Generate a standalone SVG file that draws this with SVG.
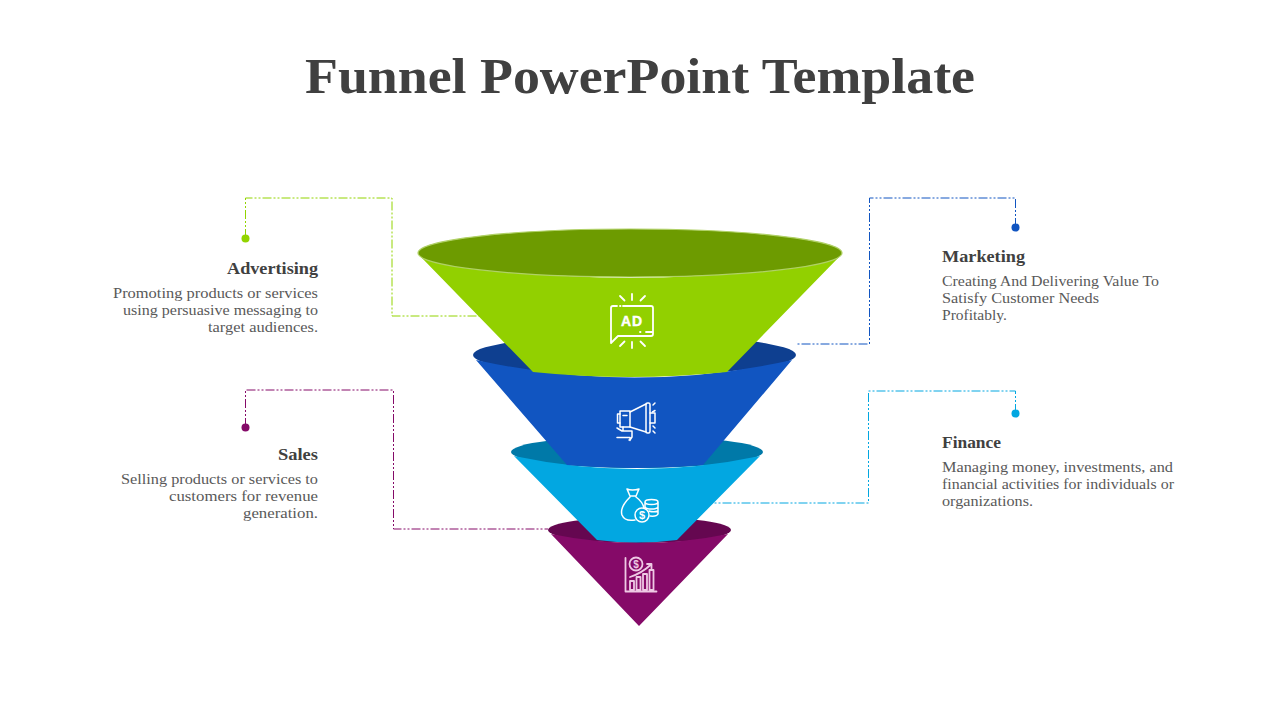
<svg xmlns="http://www.w3.org/2000/svg" width="1280" height="720" viewBox="0 0 1280 720">
<style>
text{font-family:"Liberation Serif","DejaVu Serif",serif}
.title{font-size:50px;font-weight:700;fill:#404040}
.h{font-size:17px;font-weight:700;fill:#404040}
.b{font-size:15.500px;fill:#595959}
.r{text-anchor:end}
.c{fill:none;stroke-width:1;stroke-dasharray:9 2 2 2 2 2}
.i{fill:none;stroke-width:1.500;stroke-linecap:round;stroke-linejoin:round;stroke:#fff}
.it{font-family:"Liberation Sans",sans-serif;fill:#fff;text-anchor:middle;font-weight:700}
</style>
<rect width="1280" height="720" fill="#fff"/>
<text class="title" x="305" y="93" textLength="670" lengthAdjust="spacingAndGlyphs">Funnel PowerPoint Template</text>
<g id="connectors">
<path class="c" stroke="#92d400" d="M245.500 238V198H392V316H482"/>
<path class="c" stroke="#1155c1" d="M1015.500 227V198H869.500V344H796"/>
<path class="c" stroke="#850a68" d="M245.500 427V390H393.500V529H548"/>
<path class="c" stroke="#02a7e1" d="M1015.500 413V391H868.500V503H712"/>
</g>
<g id="sales">
<circle cx="245.500" cy="427.500" r="4" fill="#850a68"/>
<text class="h r" x="318" y="460" textLength="40" lengthAdjust="spacingAndGlyphs">Sales</text>
<text class="b r" x="318" y="484" textLength="197" lengthAdjust="spacingAndGlyphs">Selling products or services to</text>
<text class="b r" x="318" y="501" textLength="149" lengthAdjust="spacingAndGlyphs">customers for revenue</text>
<text class="b r" x="318" y="518" textLength="75" lengthAdjust="spacingAndGlyphs">generation.</text>
<ellipse cx="639.500" cy="530" rx="91.500" ry="13" fill="#650750"/>
<path d="M551 534Q640 552 728 534L639 626Z" fill="#850a68"/>
<g class="i" style="stroke:#eec9e4;stroke-width:1.800">
<path d="M625.500 558V591.500H656.500M630 577Q642 573 651 564.500M647 564H651.500V568.500"/>
<rect x="630" y="581" width="4" height="9"/><rect x="636.500" y="577" width="4" height="13"/><rect x="643" y="574" width="4" height="16"/><rect x="649.500" y="570" width="4" height="20"/>
<circle cx="636" cy="564" r="6.500"/>
</g>
<text class="it" x="636" y="568" font-size="10" style="fill:#eec9e4">$</text>
</g>
<g id="finance">
<circle cx="1015.500" cy="413.500" r="4" fill="#02a7e1"/>
<text class="h" x="942" y="448" textLength="59" lengthAdjust="spacingAndGlyphs">Finance</text>
<text class="b" x="942" y="472" textLength="231" lengthAdjust="spacingAndGlyphs">Managing money, investments, and</text>
<text class="b" x="942" y="489" textLength="232" lengthAdjust="spacingAndGlyphs">financial activities for individuals or</text>
<text class="b" x="942" y="506" textLength="91" lengthAdjust="spacingAndGlyphs">organizations.</text>
<ellipse cx="637" cy="452" rx="126" ry="16" fill="#0079a8"/>
<path d="M514 456L597 540Q637 545 677 540L760 456Q637 482 514 456Z" fill="#02a7e1"/>
<g class="i">
<path d="M627 489Q632 491 639 489L636 496L630 496ZM630 497C624 503 620 509 622 515C624 520 629 521 635 520M636 497C640 500 643 503 644 508"/>
<circle cx="642" cy="515" r="7"/>
<path d="M645 502a6.500 2.500 0 0 1 13 0v12a6.500 2.500 0 0 1-8 2M645 502a6.500 2.500 0 0 0 13 0M645 502v6M645 506.500a6.500 2.500 0 0 0 13 0M649 511a6.500 2.500 0 0 0 9 0"/>
</g>
<text class="it" x="642" y="519" font-size="11">$</text>
</g>
<g id="marketing">
<circle cx="1015.500" cy="227.500" r="4" fill="#1155c1"/>
<text class="h" x="942" y="262" textLength="83" lengthAdjust="spacingAndGlyphs">Marketing</text>
<text class="b" x="942" y="286" textLength="217" lengthAdjust="spacingAndGlyphs">Creating And Delivering Value To</text>
<text class="b" x="942" y="303" textLength="157" lengthAdjust="spacingAndGlyphs">Satisfy Customer Needs</text>
<text class="b" x="942" y="320" textLength="65" lengthAdjust="spacingAndGlyphs">Profitably.</text>
<ellipse cx="634.500" cy="355" rx="161.500" ry="20" fill="#0e3f90"/>
<path d="M476 360L567 465Q635 471 703 465L792 360Q635 395 476 360Z" fill="#1155c1"/>
<g class="i">
<path d="M630 412L646 404M630 427L646 432M650 413H655V423H650"/>
<rect x="646" y="403" width="4" height="30" rx="1.500"/>
<rect x="620" y="411" width="10" height="16"/>
<path d="M620 414H617.500V423H620M623 415.500H627M623 427V431M617 428L622 431H632V437L630 440H629M617 437.500H630V440.500"/>
<path d="M653 405L655 403M652.500 412L655 410.500M653 426L655 428M653 431L655 433"/>
</g>
</g>
<g id="advertising">
<circle cx="245.500" cy="238.500" r="4" fill="#92d400"/>
<text class="h r" x="318" y="274" textLength="91" lengthAdjust="spacingAndGlyphs">Advertising</text>
<text class="b r" x="318" y="298" textLength="205" lengthAdjust="spacingAndGlyphs">Promoting products or services</text>
<text class="b r" x="318" y="315" textLength="195" lengthAdjust="spacingAndGlyphs">using persuasive messaging to</text>
<text class="b r" x="318" y="332" textLength="110" lengthAdjust="spacingAndGlyphs">target audiences.</text>
<path d="M420 256L533 372Q630 382 727 372L840 256Q630 300 420 256Z" fill="#92d000"/>
<ellipse cx="630" cy="253" rx="212" ry="24" fill="#6d9b00" stroke="#b0d166" stroke-width="1.200"/>
<g class="i" style="stroke-width:1.800">
<path d="M617 306H613Q611 306 611 308V343L618 336H651Q653 336 653 334V308Q653 306 651 306H623M646 332H652M640 332H640.500M620 306H620.500"/>
<path d="M632 294V300M620 296L624.500 300.500M645 296L640.500 300.500M632 342V348M620 346L624.500 341.500M645 346L640.500 341.500"/>
</g>
<text class="it" x="632" y="326" font-size="14" style="letter-spacing:1px;stroke:#fff;stroke-width:.4px">AD</text>
</g>
</svg>
